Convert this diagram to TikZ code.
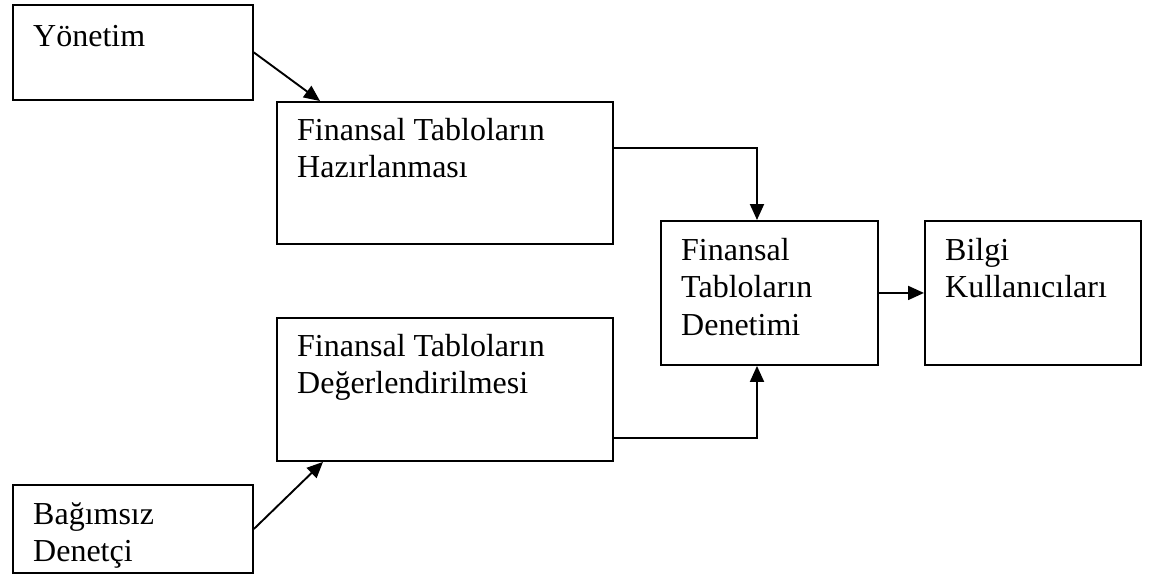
\documentclass[tikz,border=0pt]{standalone}
\usepackage{fontspec}
\setmainfont{Liberation Serif}
\usetikzlibrary{arrows.meta,calc}

% top-aligned block of lines whose baseline is that of the first line
\newcommand{\toplines}[1]{\begin{tabular}[t]{@{}l@{}}#1\end{tabular}}

\tikzset{
  box/.style={draw=black, line width=1.9pt, anchor=north west, inner sep=0pt, fill=white},
  lbl/.style={anchor=base west, inner sep=0pt,
              font=\fontsize{32}{37.5}\selectfont},
  arr/.style={draw=black, line width=1.9pt, -{Triangle[length=16pt,width=14pt]}},
}

\begin{document}
\begin{tikzpicture}[x=1pt, y=-1pt]
  \useasboundingbox (0,0) rectangle (1152,582);

  % boxes
  \node[box, minimum width=240pt, minimum height=95pt]  (A) at (12,4)    {};
  \node[box, minimum width=336pt, minimum height=142pt] (B) at (276,101) {};
  \node[box, minimum width=336pt, minimum height=143pt] (C) at (276,317) {};
  \node[box, minimum width=240pt, minimum height=88pt]  (D) at (12,484)  {};
  \node[box, minimum width=217pt, minimum height=144pt] (E) at (660,220) {};
  \node[box, minimum width=216pt, minimum height=144pt] (F) at (924,220) {};

  % texts
  \node[lbl] (tA) at ([xshift=21pt,yshift=-42pt]A.north west) {Yönetim};
  \node[lbl] (tB) at ([xshift=21pt,yshift=-39pt]B.north west) {\toplines{Finansal Tabloların\\Hazırlanması}};
  \node[lbl] (tC) at ([xshift=21pt,yshift=-39pt]C.north west) {\toplines{Finansal Tabloların\\Değerlendirilmesi}};
  \node[lbl] (tD) at ([xshift=21pt,yshift=-40pt]D.north west) {\toplines{Bağımsız\\Denetçi}};
  \node[lbl] (tE) at ([xshift=21pt,yshift=-40pt]E.north west) {\toplines{Finansal\\Tabloların\\Denetimi}};
  \node[lbl] (tF) at ([xshift=21pt,yshift=-40pt]F.north west) {\toplines{Bilgi\\Kullanıcıları}};

  % connectors
  \draw[arr] (A.east) -- ([xshift=44pt]B.north west);
  \draw[arr] ([yshift=-47pt]B.north east) -| ([xshift=97pt]E.north west);
  \draw[arr] ([yshift=24pt]C.south east) -| ([xshift=97pt]E.south west);
  \draw[arr] (D.east) -- ([xshift=47pt]C.south west);
  \draw[arr] (E.east) -- (F.west);
\end{tikzpicture}
\end{document}
